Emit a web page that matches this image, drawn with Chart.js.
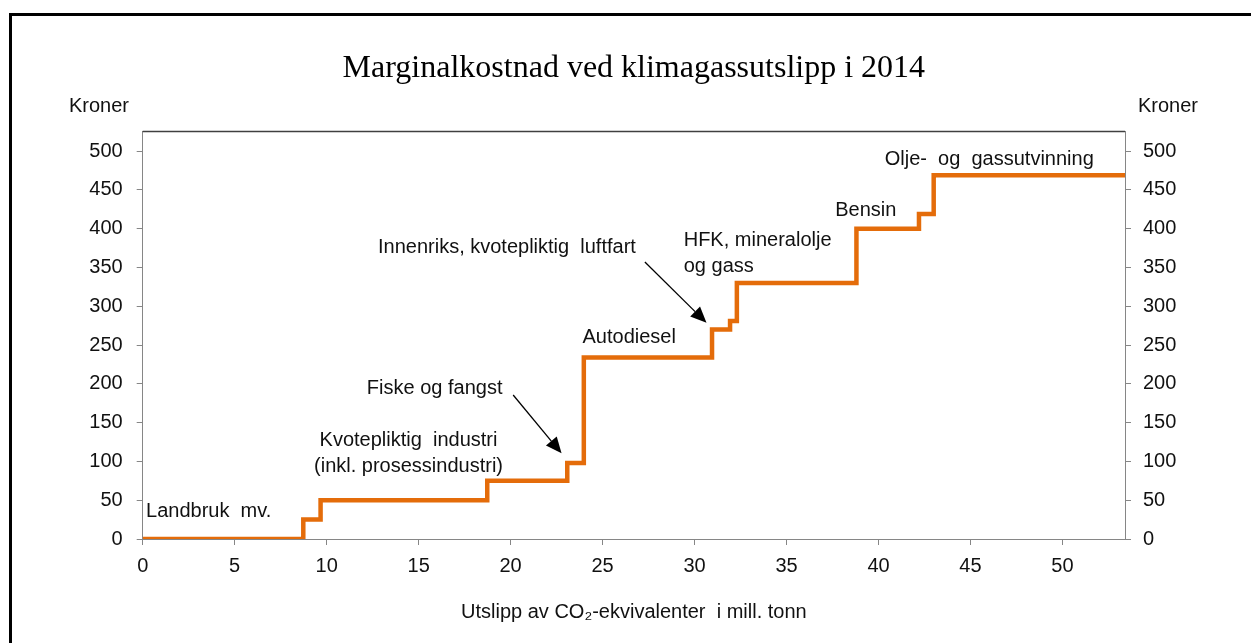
<!DOCTYPE html>
<html>
<head>
<meta charset="utf-8">
<script src="https://cdn.jsdelivr.net/npm/chart.js@4"></script>
<style>
html,body{margin:0;padding:0;background:#fff;overflow:hidden;}
#wrap{position:relative;width:1251px;height:643px;}
#frame{position:absolute;left:9px;top:13px;width:1400px;height:800px;border-left:3px solid #000;border-top:3px solid #000;pointer-events:none;}
</style>
</head>
<body>
<div id="wrap">
<canvas id="c"></canvas>
<div id="frame"></div>
</div>
<script>
// ---- data ----
const stepX = [0, 8.73, 9.67, 18.73, 23.08, 23.98, 30.95, 31.93, 32.3, 38.8, 42.2, 43.0, 53.4];
const stepY = [0, 25, 50, 75, 98, 234, 270, 281, 330, 400, 419, 469, 469];
const yTicks = [0, 50, 100, 150, 200, 250, 300, 350, 400, 450, 500];
const xTicks = [0, 5, 10, 15, 20, 25, 30, 35, 40, 45, 50];

const titleText = 'Marginalkostnad ved klimagassutslipp i 2014';
const yUnit = 'Kroner';
const xTitle = 'Utslipp av CO\u2082-ekvivalenter  i mill. tonn';

const labelText = ['Landbruk  mv.', 'Kvotepliktig  industri', '(inkl. prosessindustri)', 'Fiske og fangst',
  'Autodiesel', 'Innenriks, kvotepliktig  luftfart', 'HFK, mineralolje', 'og gass', 'Bensin', 'Olje-  og  gassutvinning'];
const labelX = [0.18, 14.45, 14.45, 15.87, 23.91, 19.8, 29.41, 29.41, 37.65, 40.34];
const labelY = [35.2, 126.7, 93.2, 194.6, 259.9, 376.3, 385.3, 351.8, 423, 489.7];
const labelAlign = ['left', 'center', 'center', 'center', 'left', 'center', 'left', 'left', 'left', 'left'];

const arrowFrom = [[20.14, 185.6], [27.3, 357]];
const arrowTo = [[22.77, 110.4], [30.65, 278.7]];

const points = stepX.map((x, i) => ({x: x, y: stepY[i]}));

const FONT = "'Liberation Sans', Arial, sans-serif";
const AXIS = '#868686';
const TXT = '#111';

const overlay = {
  id: 'overlay',
  afterDraw(chart) {
    const ctx = chart.ctx;
    const xs = chart.scales.x, ys = chart.scales.y;
    const a = chart.chartArea;
    ctx.save();
    // top border of plot area
    ctx.strokeStyle = '#404040';
    ctx.lineWidth = 1.5;
    ctx.beginPath();
    ctx.moveTo(a.left, a.top + 0.5);
    ctx.lineTo(a.right, a.top + 0.5);
    ctx.stroke();
    // unit labels
    ctx.fillStyle = TXT;
    ctx.font = '20px ' + FONT;
    ctx.textBaseline = 'middle';
    ctx.textAlign = 'left';
    ctx.fillText(yUnit, 69, 106);
    ctx.fillText(yUnit, 1138, 106);
    // annotations
    for (let i = 0; i < labelText.length; i++) {
      ctx.textAlign = labelAlign[i];
      ctx.fillText(labelText[i], xs.getPixelForValue(labelX[i]), ys.getPixelForValue(labelY[i]));
    }
    // arrows
    ctx.strokeStyle = '#000';
    ctx.fillStyle = '#000';
    ctx.lineWidth = 1.3;
    for (let i = 0; i < arrowFrom.length; i++) {
      const x1 = xs.getPixelForValue(arrowFrom[i][0]), y1 = ys.getPixelForValue(arrowFrom[i][1]);
      const x2 = xs.getPixelForValue(arrowTo[i][0]), y2 = ys.getPixelForValue(arrowTo[i][1]);
      const ang = Math.atan2(y2 - y1, x2 - x1);
      const hl = 16, hw = 7;
      const bx = x2 - hl * Math.cos(ang), by = y2 - hl * Math.sin(ang);
      ctx.beginPath();
      ctx.moveTo(x1, y1);
      ctx.lineTo(bx, by);
      ctx.stroke();
      ctx.beginPath();
      ctx.moveTo(x2, y2);
      ctx.lineTo(bx + hw * Math.sin(ang), by - hw * Math.cos(ang));
      ctx.lineTo(bx - hw * Math.sin(ang), by + hw * Math.cos(ang));
      ctx.closePath();
      ctx.fill();
    }
    ctx.restore();
  }
};

function keepTicks(list) {
  return function(scale) {
    scale.ticks = list.map(v => ({value: v}));
  };
}

new Chart(document.getElementById('c'), {
  type: 'line',
  data: {
    datasets: [{
      data: points,
      borderColor: '#E46C0A',
      borderWidth: 4.5,
      stepped: 'before',
      pointRadius: 0,
      fill: false,
      borderJoinStyle: 'miter',
      borderCapStyle: 'butt'
    }]
  },
  options: {
    responsive: true,
    maintainAspectRatio: false,
    animation: false,
    layout: {padding: 0},
    plugins: {
      legend: {display: false},
      tooltip: {enabled: false},
      title: {
        display: true,
        text: titleText,
        fullSize: false,
        color: '#000',
        font: {family: "'Liberation Serif', 'Times New Roman', serif", size: 32, weight: 'normal', lineHeight: 1.2},
        padding: {top: 49.3, bottom: 43.3}
      }
    },
    scales: {
      x: {
        type: 'linear',
        min: 0, max: 53.4,
        afterBuildTicks: keepTicks(xTicks),
        afterFit(s) { s.height = 104; },
        grid: {display: true, drawOnChartArea: false, drawTicks: true, tickLength: 6, color: AXIS},
        border: {display: true, color: AXIS, width: 1},
        ticks: {color: TXT, font: {family: FONT, size: 20}, padding: 9, maxRotation: 0, autoSkip: false},
        title: {display: true, text: xTitle, color: TXT, font: {family: FONT, size: 20, lineHeight: 1.2}, padding: {top: 0, bottom: 19}}
      },
      y: {
        type: 'linear', position: 'left',
        min: 0, max: 526,
        afterBuildTicks: keepTicks(yTicks),
        afterFit(s) { s.width = 142.7; },
        grid: {display: true, drawOnChartArea: false, drawTicks: true, tickLength: 6, color: AXIS},
        border: {display: true, color: AXIS, width: 1},
        ticks: {color: TXT, font: {family: FONT, size: 20}, padding: 14, autoSkip: false}
      },
      y2: {
        type: 'linear', position: 'right',
        min: 0, max: 526,
        afterBuildTicks: keepTicks(yTicks),
        afterFit(s) { s.width = 126; },
        grid: {display: true, drawOnChartArea: false, drawTicks: true, tickLength: 6, color: AXIS},
        border: {display: true, color: AXIS, width: 1},
        ticks: {color: TXT, font: {family: FONT, size: 20}, padding: 12, autoSkip: false}
      }
    }
  },
  plugins: [overlay]
});
</script>
</body>
</html>
